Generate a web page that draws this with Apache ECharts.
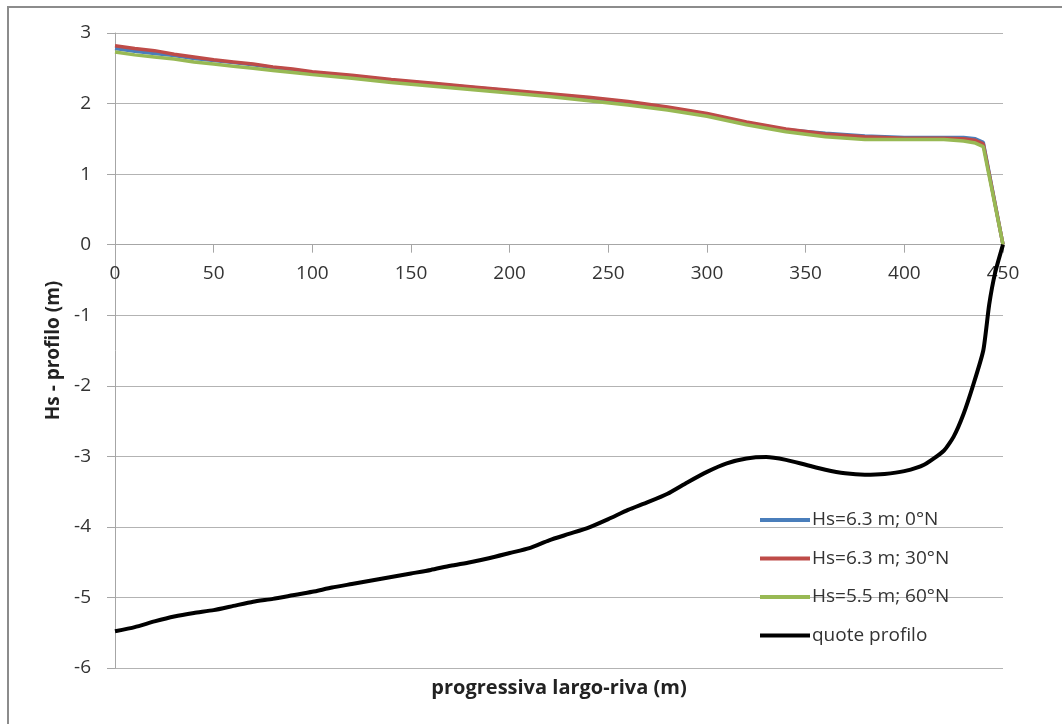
<!DOCTYPE html>
<html>
<head>
<meta charset="utf-8">
<script src="https://cdn.jsdelivr.net/npm/echarts@6/dist/echarts.min.js"></script>
<style>
  html, body { margin: 0; padding: 0; background: #fff; }
  #chart { width: 1062px; height: 724px; }
</style>
</head>
<body>
<div id="chart"></div>
<script>
// progressiva largo-riva (m) for the wave height series
var hsX = [0, 10, 20, 30, 40, 50, 60, 70, 80, 90, 100, 120, 140, 160, 180, 200, 220, 240, 260, 280, 300, 320, 340, 360, 380, 400, 420, 430, 436, 440, 450];
var hs0 = [2.78, 2.74, 2.71, 2.68, 2.64, 2.61, 2.58, 2.55, 2.51, 2.48, 2.44, 2.39, 2.33, 2.28, 2.23, 2.18, 2.13, 2.08, 2.02, 1.94, 1.85, 1.73, 1.63, 1.58, 1.54, 1.52, 1.52, 1.52, 1.50, 1.45, 0];
var hs30 = [2.82, 2.78, 2.75, 2.70, 2.66, 2.62, 2.59, 2.56, 2.52, 2.49, 2.45, 2.40, 2.34, 2.29, 2.24, 2.19, 2.14, 2.09, 2.03, 1.95, 1.86, 1.74, 1.64, 1.57, 1.53, 1.51, 1.51, 1.50, 1.48, 1.43, 0];
var hs60 = [2.73, 2.69, 2.66, 2.63, 2.59, 2.56, 2.53, 2.50, 2.47, 2.44, 2.41, 2.36, 2.30, 2.25, 2.20, 2.15, 2.10, 2.04, 1.98, 1.91, 1.82, 1.70, 1.60, 1.53, 1.49, 1.49, 1.49, 1.47, 1.44, 1.39, 0];

// quote profilo
var profX = [0, 10, 20, 30, 40, 50, 60, 70, 80, 90, 100, 110, 120, 130, 140, 150, 160, 170, 180, 190, 200, 210, 220, 230, 240, 250, 260, 270, 280, 290, 300, 310, 320, 330, 340, 350, 360, 370, 380, 390, 400, 410, 420, 425, 430, 435, 440, 443, 446, 450];
var profY = [-5.48, -5.42, -5.34, -5.27, -5.22, -5.18, -5.12, -5.06, -5.02, -4.97, -4.92, -4.86, -4.81, -4.76, -4.71, -4.66, -4.61, -4.55, -4.50, -4.44, -4.37, -4.30, -4.19, -4.10, -4.01, -3.89, -3.76, -3.65, -3.53, -3.37, -3.22, -3.10, -3.03, -3.01, -3.05, -3.12, -3.19, -3.24, -3.26, -3.25, -3.21, -3.12, -2.92, -2.72, -2.40, -1.98, -1.50, -0.85, -0.40, 0];

var names = ['Hs=6.3 m; 0°N', 'Hs=6.3 m; 30°N', 'Hs=5.5 m; 60°N', 'quote profilo'];
var colors = ['#4a7ebb', '#be4b48', '#98b954', '#000000'];

var pair = function (xs, ys) {
    var res = [];
    for (var i = 0; i < xs.length; i++) {
        res.push([xs[i], ys[i]]);
    }
    return res;
};

var font = '"Open Sans", "Noto Sans", sans-serif';
var myChart = echarts.init(document.getElementById('chart'), null, { renderer: 'canvas' });

// grid: top 33, bottom 56 -> height 635, y range -6..3; x axis sits at y = 0
var gridTop = 33, gridBottom = 56;
var gridH = 724 - gridTop - gridBottom;
var zeroOffset = -gridH * 6 / 9;

var option = {
    animation: false,
    backgroundColor: '#fff',
    color: colors,
    textStyle: { fontFamily: font },
    graphic: [
        {
            type: 'rect',
            shape: { x: 8, y: 7, width: 1200, height: 900 },
            style: { fill: 'none', stroke: '#8c8c8c', lineWidth: 2 },
            silent: true
        },
        {
            type: 'text',
            style: {
                x: 559, y: 688,
                text: 'progressiva largo-riva (m)',
                fontFamily: font, fontSize: 20, fontWeight: 'bold',
                fill: '#222', align: 'center', verticalAlign: 'middle'
            },
            silent: true
        }
    ],
    grid: { left: 115, right: 59, top: gridTop, bottom: gridBottom, containLabel: false },
    legend: {
        orient: 'vertical',
        left: 755,
        top: 504,
        itemWidth: 50,
        itemHeight: 4,
        itemGap: 16.5,
        icon: 'rect',
        textStyle: { fontSize: 19, color: '#333', fontFamily: font, lineHeight: 22, padding: [0, 0, 0, -3] },
        data: names
    },
    xAxis: {
        type: 'value',
        min: 0,
        max: 450,
        interval: 50,
        position: 'bottom',
        offset: zeroOffset,
        axisLine: { onZero: false, lineStyle: { color: '#a6a6a6', width: 1 } },
        axisTick: { show: true, inside: false, length: 8, lineStyle: { color: '#a6a6a6' } },
        axisLabel: { fontSize: 19, color: '#333', margin: 19, fontFamily: font },
        splitLine: { show: false }
    },
    yAxis: {
        type: 'value',
        min: -6,
        max: 3,
        interval: 1,
        name: 'Hs - profilo (m)',
        nameLocation: 'middle',
        nameGap: 50,
        nameTextStyle: { fontSize: 19, fontWeight: 'bold', color: '#222', fontFamily: font },
        axisLine: { show: true, onZero: false, lineStyle: { color: '#a6a6a6', width: 1 } },
        axisTick: { show: true, inside: false, length: 8, lineStyle: { color: '#a6a6a6' } },
        axisLabel: { fontSize: 19, color: '#333', margin: 24, fontFamily: font },
        splitLine: { show: true, lineStyle: { color: '#b3b3b3', width: 1 } }
    },
    series: [
        {
            name: names[0], type: 'line', showSymbol: false,
            lineStyle: { width: 3.5, color: colors[0] },
            data: pair(hsX, hs0)
        },
        {
            name: names[1], type: 'line', showSymbol: false,
            lineStyle: { width: 3.5, color: colors[1] },
            data: pair(hsX, hs30)
        },
        {
            name: names[2], type: 'line', showSymbol: false,
            lineStyle: { width: 3.5, color: colors[2] },
            data: pair(hsX, hs60)
        },
        {
            name: names[3], type: 'line', showSymbol: false, smooth: 0.2,
            lineStyle: { width: 4, color: colors[3] },
            data: pair(profX, profY)
        }
    ]
};
myChart.setOption(option);
</script>
</body>
</html>
